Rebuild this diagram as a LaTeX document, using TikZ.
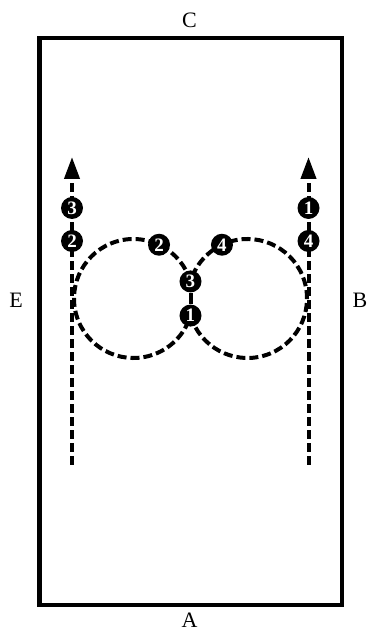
\documentclass[tikz,border=0pt]{standalone}
\usepackage{fontspec}
\setmainfont{Liberation Serif}
\usetikzlibrary{arrows.meta,calc}
\begin{document}
\begin{tikzpicture}[x=1pt,y=1pt,
  route/.style={line width=4pt, dash pattern=on 9pt off 4pt},
  num/.style={circle, fill=black, text=white, inner sep=0pt, minimum size=22pt,
    font=\fontsize{19}{19}\selectfont\bfseries},
  side/.style={font=\fontsize{22}{22}\selectfont, inner sep=0pt}]
\useasboundingbox (0,0) rectangle (371,631);
% field
\draw[line width=4.5pt] (39.5,26) rectangle (342,593);
% side labels
\node[side] (C) at (189.5,611) {C};
\node[side] (A) at (189.5,11) {A};
\node[side] (E) at (16,331) {E};
\node[side] (B) at (360,331) {B};
% geometry
\coordinate (Lc) at (133.5,332.5);
\coordinate (Rc) at (247.5,332.5);
\coordinate (Lb) at (72,166);
\coordinate (Lt) at (72,474);
\coordinate (Rb) at (308.5,166);
\coordinate (Rt) at (308.5,474);
\coordinate (Xt) at ($(Lc)+(16.67:59.5)$);
\coordinate (Xb) at ($(Lc)+(-16.67:59.5)$);
% paths
\draw[route, -{Triangle[length=22pt,width=15pt]}] (Lb) -- (Lt);
\draw[route, -{Triangle[length=22pt,width=15pt]}] (Rb) -- (Rt);
\draw[route] (Xt) arc[start angle=16.67, end angle=343.33, radius=59.5];
\draw[route] ($(Rc)+(196.67:59.5)$) arc[start angle=196.67, end angle=523.33, radius=59.5];
% numbered markers
\node[num] (m3) at (Xt) {3};
\node[num] (m1) at (Xb) {1};
\draw[line width=4pt] (m3) -- (m1);
\node[num] (m2) at ($(Lc)+(64.6:59.5)$) {2};
\node[num] (m4) at ($(Rc)+(115.4:59.5)$) {4};
\node[num] (l3) at (72,423) {3};
\node[num] (l2) at (72,390) {2};
\node[num] (r1) at (308.5,423) {1};
\node[num] (r4) at (308.5,390) {4};
\end{tikzpicture}
\end{document}
